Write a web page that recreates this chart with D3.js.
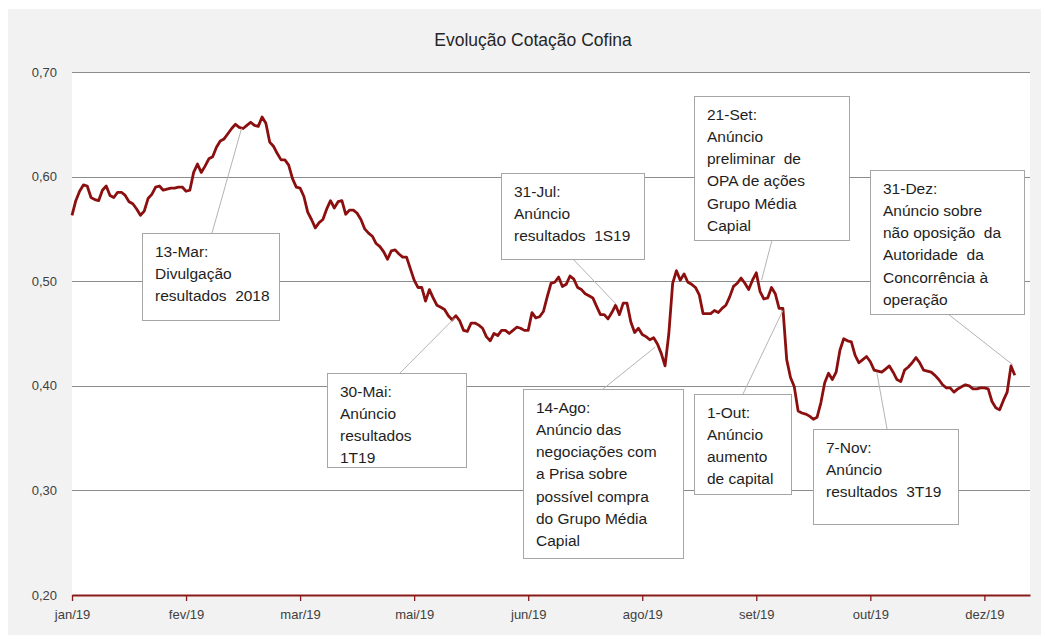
<!DOCTYPE html>
<html>
<head>
<meta charset="utf-8">
<script src="https://cdn.jsdelivr.net/npm/d3@7"></script>
<style>
    body { margin: 0; background: #fff; }
    text { font-family: "Liberation Sans", Arial, sans-serif; }
</style>
</head>
<body>
<script>
var chartTitle = "Evolução Cotação Cofina";

var yTicks = [0.2, 0.3, 0.4, 0.5, 0.6, 0.7];

// trading-day index of each month label (one tick every 30 sessions)
var monthTicks = [0, 30, 60, 90, 120, 150, 180, 210, 240];
var monthLabels = ["jan/19", "fev/19", "mar/19", "mai/19", "jun/19", "ago/19", "set/19", "out/19", "dez/19"];
var sessions = 252;

// daily closing price, EUR
var prices = [
    0.563, 0.577, 0.586, 0.592, 0.591, 0.580, 0.578, 0.577, 0.587, 0.591,
    0.582, 0.580, 0.585, 0.585, 0.582, 0.576, 0.574, 0.569, 0.563, 0.567,
    0.579, 0.583, 0.590, 0.591, 0.587, 0.588, 0.589, 0.589, 0.590, 0.590,
    0.586, 0.587, 0.604, 0.612, 0.604, 0.610, 0.617, 0.619, 0.628, 0.634,
    0.636, 0.641, 0.646, 0.650, 0.647, 0.646, 0.649, 0.652, 0.649, 0.648,
    0.657, 0.651, 0.633, 0.629, 0.622, 0.616, 0.616, 0.611, 0.598, 0.590,
    0.589, 0.581, 0.566, 0.559, 0.551, 0.556, 0.559, 0.569, 0.577, 0.570,
    0.576, 0.577, 0.564, 0.568, 0.568, 0.565, 0.559, 0.550, 0.546, 0.543,
    0.536, 0.533, 0.528, 0.521, 0.529, 0.530, 0.526, 0.523, 0.523, 0.512,
    0.501, 0.494, 0.494, 0.481, 0.492, 0.484, 0.477, 0.475, 0.473, 0.467,
    0.463, 0.467, 0.462, 0.453, 0.452, 0.460, 0.460, 0.458, 0.455, 0.447,
    0.443, 0.450, 0.448, 0.453, 0.453, 0.450, 0.453, 0.456, 0.455, 0.453,
    0.453, 0.470, 0.465, 0.466, 0.471, 0.485, 0.498, 0.499, 0.504, 0.495,
    0.497, 0.505, 0.502, 0.494, 0.492, 0.488, 0.486, 0.484, 0.476, 0.468,
    0.468, 0.464, 0.470, 0.477, 0.468, 0.479, 0.479, 0.461, 0.451, 0.455,
    0.449, 0.447, 0.444, 0.446, 0.440, 0.431, 0.419, 0.450, 0.498, 0.510,
    0.501, 0.507, 0.499, 0.497, 0.494, 0.487, 0.469, 0.469, 0.469, 0.472,
    0.470, 0.474, 0.477, 0.485, 0.495, 0.498, 0.503, 0.498, 0.492, 0.501,
    0.508, 0.490, 0.483, 0.484, 0.494, 0.488, 0.474, 0.474, 0.425, 0.408,
    0.399, 0.376, 0.374, 0.373, 0.371, 0.368, 0.370, 0.384, 0.403, 0.412,
    0.406, 0.413, 0.434, 0.445, 0.443, 0.442, 0.429, 0.422, 0.425, 0.428,
    0.423, 0.415, 0.414, 0.413, 0.416, 0.419, 0.413, 0.406, 0.404, 0.415,
    0.418, 0.422, 0.427, 0.422, 0.415, 0.414, 0.413, 0.410, 0.406, 0.401,
    0.398, 0.398, 0.394, 0.397, 0.399, 0.401, 0.400, 0.397, 0.397, 0.398,
    0.398, 0.397, 0.385, 0.379, 0.377, 0.386, 0.394, 0.419, 0.410
];

// events: where each leader line touches the price line (session, price)
var noteDays = [44.6, 100.7, 143.4, 153.4, 181.4, 187.0, 211.7, 247.5];
var noteValues = [0.646, 0.465, 0.477, 0.437, 0.501, 0.472, 0.413, 0.420];
var noteTexts = [
    ["13-Mar:", "Divulgação", "resultados  2018"],
    ["30-Mai:", "Anúncio", "resultados", "1T19"],
    ["31-Jul:", "Anúncio", "resultados  1S19"],
    ["14-Ago:", "Anúncio das", "negociações com", "a Prisa sobre", "possível compra", "do Grupo Média", "Capial"],
    ["21-Set:", "Anúncio", "preliminar  de", "OPA de ações", "Grupo Média", "Capial"],
    ["1-Out:", "Anúncio", "aumento", "de capital"],
    ["7-Nov:", "Anúncio", "resultados  3T19"],
    ["31-Dez:", "Anúncio sobre", "não oposição  da", "Autoridade  da", "Concorrência à", "operação"]
];

// callout box layout (pixels) and where the leader meets the box
var noteBoxes = [
    { x: 142, y: 233, w: 137, h: 87, ax: 212, ay: 233 },
    { x: 327, y: 373, w: 139, h: 94, ax: 400, ay: 373 },
    { x: 501, y: 173, w: 143, h: 86, ax: 573, ay: 259 },
    { x: 523, y: 389, w: 160, h: 169, ax: 603, ay: 389 },
    { x: 694, y: 96, w: 155, h: 144, ax: 772, ay: 240 },
    { x: 694, y: 394, w: 97, h: 100, ax: 743, ay: 394 },
    { x: 813, y: 429, w: 145, h: 95, ax: 887, ay: 429 },
    { x: 870, y: 170, w: 154, h: 144, ax: 948, ay: 314 }
];

var W = 1045, H = 639;
var plot = { left: 72, right: 1030, top: 72, bottom: 595 };

var svg = d3
    .select("body")
    .append("svg")
    .attr("width", W)
    .attr("height", H);

// chart area and plot area backgrounds
svg.append("rect")
    .attr("x", 8).attr("y", 9)
    .attr("width", 1033).attr("height", 626)
    .style("fill", "#f2f2f2");

svg.append("rect")
    .attr("x", plot.left).attr("y", plot.top)
    .attr("width", plot.right - plot.left)
    .attr("height", plot.bottom - plot.top)
    .style("fill", "#fff");

var x = d3.scaleLinear().domain([0, sessions]).range([plot.left, plot.right]);
var y = d3.scaleLinear().domain([0.2, 0.7]).range([plot.bottom, plot.top]);

svg.append("text")
    .attr("x", 533)
    .attr("y", 46)
    .attr("text-anchor", "middle")
    .style("font-size", "17.5px")
    .style("fill", "#262626")
    .text(chartTitle);

// horizontal gridlines
svg.append("g")
    .selectAll("line")
    .data(yTicks.slice(1))
    .enter()
    .append("line")
    .attr("x1", plot.left)
    .attr("x2", plot.right)
    .attr("y1", (d) => Math.round(y(d)) + 0.5)
    .attr("y2", (d) => Math.round(y(d)) + 0.5)
    .style("stroke", "#8c8c8c")
    .style("stroke-width", "1px");

var fmt = (d) => d3.format(".2f")(d).replace(".", ",");

svg.append("g")
    .selectAll("text")
    .data(yTicks)
    .enter()
    .append("text")
    .attr("x", 57)
    .attr("y", (d) => y(d))
    .attr("dy", "0.35em")
    .attr("text-anchor", "end")
    .style("font-size", "13px")
    .style("fill", "#404040")
    .text(fmt);

// category axis along the bottom
var xAxis = svg.append("g")
    .attr("transform", "translate(0," + plot.bottom + ")")
    .call(
        d3.axisBottom(x)
            .tickValues(monthTicks)
            .tickFormat((d, i) => monthLabels[i])
            .tickSize(6)
            .tickSizeOuter(0)
            .tickPadding(9)
    );

xAxis.select(".domain").style("stroke", "#8b1a1a").style("stroke-width", "2px");
xAxis.selectAll(".tick line").style("stroke", "#8b1a1a").style("stroke-width", "1.3px");
xAxis.selectAll(".tick text")
    .style("font-size", "13px")
    .style("fill", "#404040")
    .style("font-family", "'Liberation Sans', Arial, sans-serif");

// price line
var line = d3.line()
    .x((d, i) => x(i))
    .y((d) => y(d));

svg.append("path")
    .datum(prices)
    .attr("d", line)
    .style("fill", "none")
    .style("stroke", "#8b0f0f")
    .style("stroke-width", "2.8px")
    .style("stroke-linejoin", "round");

// leader lines
svg.append("g")
    .selectAll("line")
    .data(noteBoxes)
    .enter()
    .append("line")
    .attr("x1", (d, i) => x(noteDays[i]))
    .attr("y1", (d, i) => y(noteValues[i]))
    .attr("x2", (d) => d.ax)
    .attr("y2", (d) => d.ay)
    .style("stroke", "#b4b4b4")
    .style("stroke-width", "1px");

// callout boxes
var note = svg.append("g")
    .selectAll("g")
    .data(noteBoxes)
    .enter()
    .append("g");

note.append("rect")
    .attr("x", (d) => d.x + 0.5)
    .attr("y", (d) => d.y + 0.5)
    .attr("width", (d) => d.w)
    .attr("height", (d) => d.h)
    .style("fill", "#fff")
    .style("stroke", "#a6a6a6")
    .style("stroke-width", "1px");

note.each(function (d, i) {
    d3.select(this)
        .selectAll("text")
        .data(noteTexts[i])
        .enter()
        .append("text")
        .attr("x", d.x + 13)
        .attr("y", (t, j) => d.y + 23.5 + j * 22.3)
        .style("font-size", "15.5px")
        .style("fill", "#1e1e1e")
        .style("white-space", "pre")
        .text((t) => t);
});
</script>
</body>
</html>
